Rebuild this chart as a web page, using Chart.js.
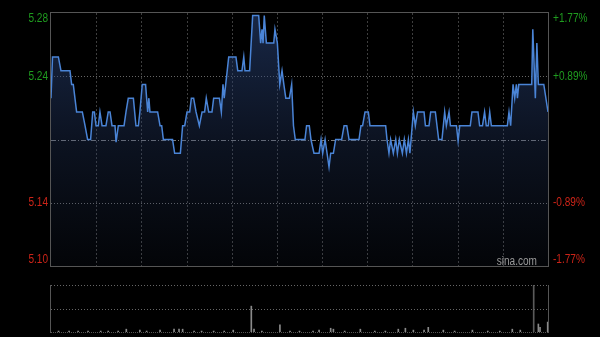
<!DOCTYPE html>
<html>
<head>
<meta charset="utf-8">
<script src="https://cdn.jsdelivr.net/npm/chart.js@4.4.0/dist/chart.umd.min.js"></script>
<style>
    html, body { margin: 0; padding: 0; background: #000; }
    #wrap { position: relative; width: 600px; height: 337px; background: #000; }
    #wrap canvas { position: absolute; left: 0; top: 0; }
</style>
</head>
<body>
<div id="wrap">
    <canvas id="priceChart" width="600" height="337"></canvas>
    <canvas id="volChart" width="600" height="337"></canvas>
</div>
<script>
// prev close and % range of the day chart (HK session: 330 minutes)
var PREV_CLOSE = 5.19,
    PCT_RANGE = 1.77,
    SESSION_MINUTES = 330;

// price line, breakpoints (minute from open, price)
var priceMinutes = [0, 1, 4.9, 6.6, 12.6, 13.7, 14.8, 17, 20.8, 22.6, 24.3, 26.3, 27.7, 28.8, 29.9, 31.4, 32.5, 33.9,
    36.5, 38, 39.2, 40.5, 42.5, 43.2, 44.7, 48.5, 49.8, 51.3, 54.7, 56.4, 58, 59, 60.6, 62.8, 64.2, 65, 65.7,
    70.8, 72.4, 73.5, 74.6, 80.7, 82.1, 85.9, 87.4, 88.8, 90.3, 92.1, 93.2, 94.7, 96.3, 98.5, 100.3, 102,
    103.1, 104.7, 106.9, 108, 111.8, 113.1, 114.2, 115, 118, 122.8, 124, 126.8, 128, 128.8, 131.9, 133.9,
    137.9, 139.2, 140.1, 140.8, 141.6, 143, 147.9, 148.7, 150.3, 151.9, 153.4, 154.6, 155.9, 158.3, 159.8,
    161, 162.2, 168.6, 169.7, 171.5, 172.6, 174.6, 178, 179.3, 180.4, 182, 184.6, 185.7, 187.5, 189, 193,
    194.6, 196.4, 197.9, 204.5, 205.8, 206.9, 208.5, 210.7, 211.8, 222.2, 223.1, 224.4, 225.5, 227.3, 228.9,
    230, 231.3, 233.3, 234.6, 236, 237.3, 238.3, 240.6, 241.9, 243.4, 247.7, 248.6, 251, 252.1, 255.2, 256.3,
    257.4, 259.6, 261.4, 262.5, 264.3, 265.2, 269.2, 270.3, 271.4, 278.4, 279.5, 283.5, 284.6, 286.5, 287.9,
    289, 290.3, 291.3, 292.4, 303, 304.1, 305.2, 306.8, 307.9, 309, 309.7, 310.6, 319.2, 319.9, 321.6, 322.6,
    323.6, 327.2, 330];
var prices = [5.22, 5.25, 5.25, 5.24, 5.24, 5.23, 5.23, 5.21, 5.21, 5.20, 5.19, 5.19, 5.21, 5.21, 5.20, 5.20, 5.21, 5.20,
    5.20, 5.21, 5.21, 5.20, 5.20, 5.188, 5.20, 5.20, 5.21, 5.22, 5.22, 5.20, 5.20, 5.21, 5.23, 5.23, 5.21, 5.22, 5.21,
    5.21, 5.20, 5.20, 5.19, 5.19, 5.18, 5.18, 5.20, 5.20, 5.21, 5.21, 5.22, 5.22, 5.21, 5.20, 5.21, 5.21,
    5.22, 5.21, 5.21, 5.22, 5.22, 5.21, 5.23, 5.22, 5.25, 5.25, 5.24, 5.24, 5.25, 5.24, 5.24, 5.28,
    5.28, 5.26, 5.27, 5.26, 5.28, 5.26, 5.26, 5.27, 5.26, 5.23, 5.24, 5.23, 5.22, 5.22, 5.23,
    5.20, 5.19, 5.19, 5.20, 5.20, 5.19, 5.18, 5.18, 5.19, 5.18, 5.19, 5.17, 5.18, 5.18, 5.19, 5.19,
    5.20, 5.20, 5.19, 5.19, 5.20, 5.20, 5.21, 5.21, 5.20, 5.20, 5.19, 5.18, 5.19, 5.18, 5.19,
    5.18, 5.19, 5.18, 5.19, 5.18, 5.19, 5.18, 5.21, 5.20, 5.21, 5.21, 5.20, 5.20, 5.21, 5.21, 5.20,
    5.19, 5.19, 5.21, 5.20, 5.21, 5.20, 5.20, 5.189, 5.20, 5.20, 5.21, 5.21, 5.20, 5.20, 5.21,
    5.20, 5.20, 5.21, 5.20, 5.20, 5.21, 5.20, 5.23, 5.22, 5.23, 5.22, 5.23, 5.23, 5.27, 5.22, 5.26,
    5.23, 5.23, 5.21];

// volume bars (minute, volume on a 0-100 panel scale)
var volMinutes = [5, 12, 18, 24.6, 33, 38, 44.6, 50, 59, 63.5, 72.4, 81.7, 85, 87.4, 95, 100, 108, 115, 121, 133,
    134.8, 140, 152, 158.7, 165, 174, 178, 185.7, 187.5, 195, 205.4, 215, 222, 230.6, 235.3, 240.6, 247.7,
    250.5, 260.5, 268, 279.8, 290, 298, 306.3, 311.6, 320.5, 323.6, 324.7, 329.8];
var volumes = [2, 2, 2, 2, 2, 2, 2, 6, 4, 2, 4, 6, 6, 6, 2, 2, 2, 2, 4, 55,
    6, 2, 15, 2, 2, 2, 4, 8, 6, 2, 6, 2, 2, 6, 8, 4, 4,
    10, 4, 2, 4, 2, 2, 6, 4, 100, 17, 10, 21];

var leftLabels = ['5.28', '5.24', '5.14', '5.10'],
    rightLabels = ['+1.77%', '+0.89%', '-0.89%', '-1.77%'],
    watermark = 'sina.com';

(function () {
    var UP = '#1f9c1f', DOWN = '#cc2418',
        yMax = PREV_CLOSE * (1 + PCT_RANGE / 100),
        yMin = PREV_CLOSE * (1 - PCT_RANGE / 100),
        yHi = PREV_CLOSE * (1 + PCT_RANGE / 200),
        yLo = PREV_CLOSE * (1 - PCT_RANGE / 200);

    function toPoints(xs, ys) {
        return xs.map(function (x, i) { return {x: x, y: ys[i]}; });
    }

    function hLine(ctx, x0, x1, y, color, dash) {
        ctx.strokeStyle = color;
        ctx.setLineDash(dash);
        ctx.beginPath();
        ctx.moveTo(x0, y);
        ctx.lineTo(x1, y);
        ctx.stroke();
    }

    function vLine(ctx, x, y0, y1, color, dash) {
        ctx.strokeStyle = color;
        ctx.setLineDash(dash);
        ctx.beginPath();
        ctx.moveTo(x, y0);
        ctx.lineTo(x, y1);
        ctx.stroke();
    }

    function drawText(ctx, text, x, y, align, color) {
        ctx.save();
        ctx.translate(x, y);
        ctx.scale(0.84, 1);
        ctx.font = '12px "Liberation Sans", Arial, sans-serif';
        ctx.textAlign = align;
        ctx.textBaseline = 'middle';
        ctx.fillStyle = color;
        ctx.fillText(text, 0, 0);
        ctx.restore();
    }

    var priceDecor = {
        id: 'priceDecor',
        beforeDatasetsDraw: function (chart) {
            var ctx = chart.ctx, a = chart.chartArea, xs = chart.scales.x, ys = chart.scales.y, m, px;
            ctx.save();
            ctx.lineWidth = 1;
            for (m = 30; m < SESSION_MINUTES; m += 30) {
                px = Math.round(xs.getPixelForValue(m)) + 0.5;
                vLine(ctx, px, a.top, a.bottom, '#3e3e3e', [2, 2]);
            }
            [yHi, yLo].forEach(function (v) {
                hLine(ctx, a.left, a.right, Math.round(ys.getPixelForValue(v)) + 0.5, '#666', [1, 2]);
            });
            hLine(ctx, a.left, a.right, Math.round(ys.getPixelForValue(PREV_CLOSE)) + 0.5, '#7a7a7a', [5, 2, 1, 2]);
            ctx.restore();
        },
        afterDraw: function (chart) {
            var ctx = chart.ctx, a = chart.chartArea, ys = chart.scales.y,
                values = [yMax, yHi, yLo, yMin], shift = [6, 0, 0, -6];
            ctx.save();
            ctx.lineWidth = 1;
            ctx.strokeStyle = '#555';
            ctx.setLineDash([]);
            ctx.strokeRect(Math.round(a.left) - 0.5, Math.round(a.top) - 0.5,
                Math.round(a.right - a.left) + 1, Math.round(a.bottom - a.top) + 1);
            values.forEach(function (v, i) {
                var y = ys.getPixelForValue(v) + shift[i], color = i < 2 ? UP : DOWN;
                drawText(ctx, leftLabels[i], a.left - 3, y, 'right', color);
                drawText(ctx, rightLabels[i], a.right + 5, y, 'left', color);
            });
            drawText(ctx, watermark, a.right - 11, a.bottom - 4.5, 'right', '#9a9a9a');
            ctx.restore();
        }
    };

    var volDecor = {
        id: 'volDecor',
        beforeDatasetsDraw: function (chart) {
            var ctx = chart.ctx, a = chart.chartArea, ys = chart.scales.y;
            ctx.save();
            ctx.lineWidth = 1;
            hLine(ctx, a.left, a.right, Math.round(a.top) + 0.5, '#666', [1, 2]);
            hLine(ctx, a.left, a.right, Math.round(ys.getPixelForValue(50)) + 0.5, '#666', [1, 2]);
            ctx.restore();
        },
        afterDraw: function (chart) {
            var ctx = chart.ctx, a = chart.chartArea;
            ctx.save();
            ctx.lineWidth = 1;
            vLine(ctx, Math.round(a.left) - 0.5, a.top, a.bottom + 1, '#555', []);
            vLine(ctx, Math.round(a.right) + 0.5, a.top, a.bottom + 1, '#555', []);
            hLine(ctx, a.left, a.right, Math.round(a.bottom) + 0.5, '#555', [1, 1]);
            ctx.restore();
        }
    };

    new Chart(document.getElementById('priceChart').getContext('2d'), {
        type: 'line',
        data: {
            datasets: [{
                data: toPoints(priceMinutes, prices),
                borderColor: '#4a84d6',
                borderWidth: 1.5,
                pointRadius: 0,
                tension: 0,
                fill: 'start',
                backgroundColor: function (context) {
                    var a = context.chart.chartArea, g;
                    if (!a) {
                        return 'rgba(30,50,90,0.4)';
                    }
                    g = context.chart.ctx.createLinearGradient(0, a.top, 0, a.bottom);
                    g.addColorStop(0, 'rgba(40,66,118,0.6)');
                    g.addColorStop(0.5, 'rgba(40,62,110,0.3)');
                    g.addColorStop(1, 'rgba(40,60,100,0.08)');
                    return g;
                }
            }]
        },
        options: {
            responsive: false,
            animation: false,
            layout: {padding: {left: 51, top: 13, right: 52, bottom: 71}},
            scales: {
                x: {type: 'linear', min: 0, max: SESSION_MINUTES, display: false},
                y: {min: yMin, max: yMax, display: false}
            },
            plugins: {legend: {display: false}, tooltip: {enabled: false}}
        },
        plugins: [priceDecor]
    });

    new Chart(document.getElementById('volChart').getContext('2d'), {
        type: 'bar',
        data: {
            datasets: [{
                data: toPoints(volMinutes, volumes),
                backgroundColor: volumes.map(function (v) { return v >= 100 ? '#5a5a5a' : '#8a8a8a'; }),
                barThickness: 1,
                grouped: false
            }]
        },
        options: {
            responsive: false,
            animation: false,
            layout: {padding: {left: 51, top: 285, right: 52, bottom: 5}},
            scales: {
                x: {type: 'linear', min: 0, max: SESSION_MINUTES, offset: false, display: false},
                y: {min: 0, max: 100, display: false}
            },
            plugins: {legend: {display: false}, tooltip: {enabled: false}}
        },
        plugins: [volDecor]
    });
})();
</script>
</body>
</html>
